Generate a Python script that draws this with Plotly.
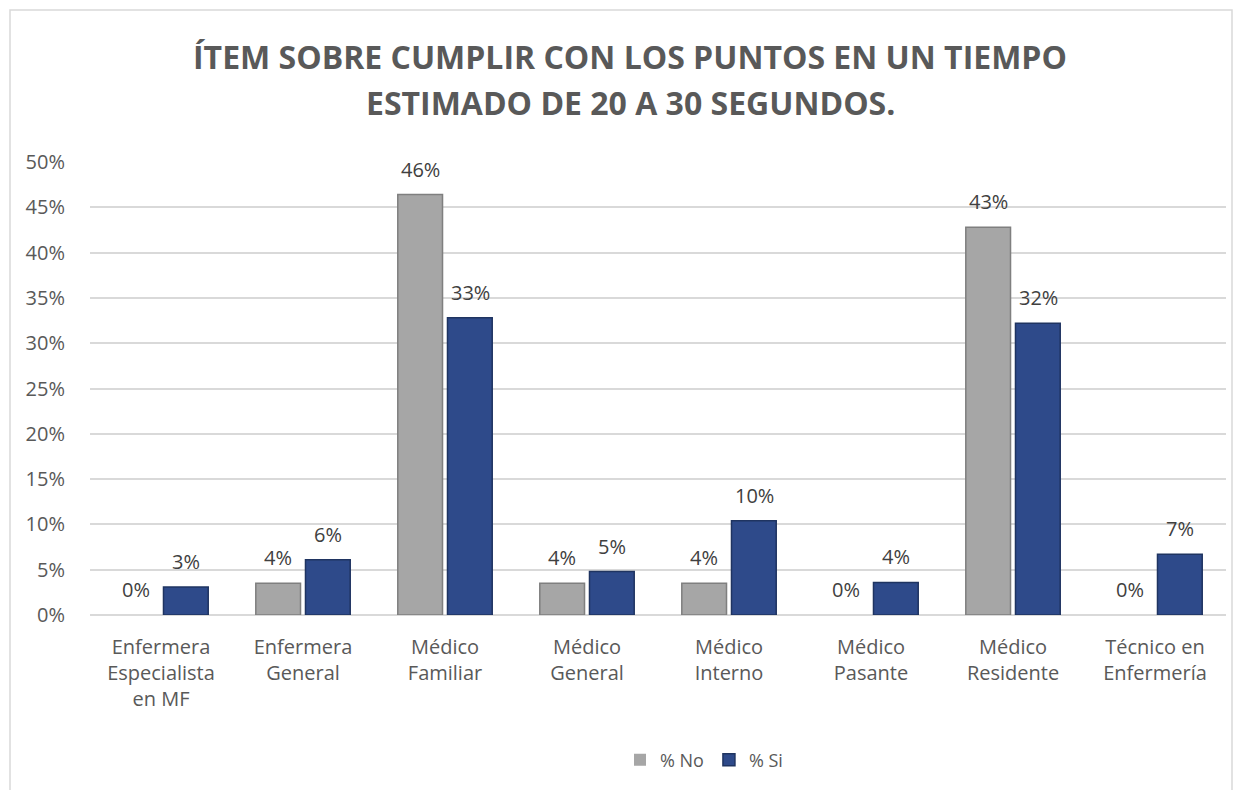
import plotly.graph_objects as go

categories = ["Enfermera<br>Especialista<br>en MF", "Enfermera<br>General", "Médico<br>Familiar",
              "Médico<br>General", "Médico<br>Interno", "Médico<br>Pasante", "Médico<br>Residente",
              "Técnico en<br>Enfermería"]
no_vals = [0.0, 3.5, 46.4, 3.5, 3.5, 0.0, 42.8, 0.0]
si_vals = [3.1, 6.1, 32.8, 4.8, 10.4, 3.6, 32.2, 6.7]
tick_vals = [0, 5, 10, 15, 20, 25, 30, 35, 40, 45, 50]
tick_text = [f"{v}%" for v in tick_vals]
title_lines = ["ÍTEM SOBRE CUMPLIR CON LOS PUNTOS EN UN TIEMPO", "ESTIMADO DE 20 A 30 SEGUNDOS."]

FONT = "Open Sans"
TXT = "#595959"
OFF = 8  # page body margin offset

fig = go.Figure()
fig.add_bar(name="% No", x=categories, y=no_vals,
            marker=dict(color="#A6A6A6",
                        line=dict(color="#7F7F7F", width=[1.5 if v > 0 else 0 for v in no_vals])))
fig.add_bar(name="% Si", x=categories, y=si_vals,
            marker=dict(color="#2E4A8A",
                        line=dict(color="#1F3461", width=[1.5 if v > 0 else 0 for v in si_vals])))

W, H = 1241, 790
L = 90 - OFF
R = W - (1226 - OFF)
T = 162 - OFF
B = H - (615 - OFF)
pw, ph = W - L - R, H - T - B

# data labels, placed above each bar
for vals, xs in ((no_vals, -25), (si_vals, 25)):
    for c, v in zip(categories, vals):
        fig.add_annotation(x=c, y=v, text=f"{round(v)}%", showarrow=False,
                           xshift=xs, yshift=10, yanchor="bottom", xanchor="center",
                           font=dict(size=20, color="#404040", family=FONT))

def px_to_paper_x(px):
    return (px - OFF - L) / pw

def py_to_paper_y(py):
    return (T + ph - (py - OFF)) / ph

fig.update_layout(
    width=W, height=H,
    margin=dict(l=L, r=R, t=T, b=B),
    paper_bgcolor="white", plot_bgcolor="white",
    barmode="group", bargap=0.3, bargroupgap=0.1,
    font=dict(family=FONT, color=TXT, size=18),
    showlegend=True,
    legend=dict(orientation="h", x=px_to_paper_x(620), xanchor="left", y=py_to_paper_y(760),
                yanchor="middle", font=dict(size=18, color=TXT, family=FONT), traceorder="normal",
                itemwidth=30, tracegroupgap=0),
)
fig.update_xaxes(showgrid=False, showline=False, ticks="", ticklabelstandoff=18,
                 tickfont=dict(size=20, color=TXT, family=FONT))
fig.update_yaxes(range=[0, 50], tickvals=tick_vals, ticktext=tick_text, showgrid=True,
                 gridcolor="#D9D9D9", gridwidth=1.5, zeroline=True, zerolinecolor="#D9D9D9", zerolinewidth=1.5,
                 showline=False, ticks="", ticklabelstandoff=24,
                 tickfont=dict(size=20, color=TXT, family=FONT))

for i, line in enumerate(title_lines):
    fig.add_annotation(text=f"<b>{line}</b>", xref="paper", yref="paper",
                       x=px_to_paper_x(630), y=py_to_paper_y(57 + i * 45),
                       xanchor="center", yanchor="middle", showarrow=False,
                       font=dict(size=32, color=TXT, family=FONT))

fig.add_shape(type="rect", xref="paper", yref="paper",
              x0=px_to_paper_x(10), x1=px_to_paper_x(1232), y0=py_to_paper_y(805), y1=py_to_paper_y(10),
              line=dict(color="#D9D9D9", width=1.5), fillcolor="rgba(0,0,0,0)", layer="below")

fig.write_html("out.html")
